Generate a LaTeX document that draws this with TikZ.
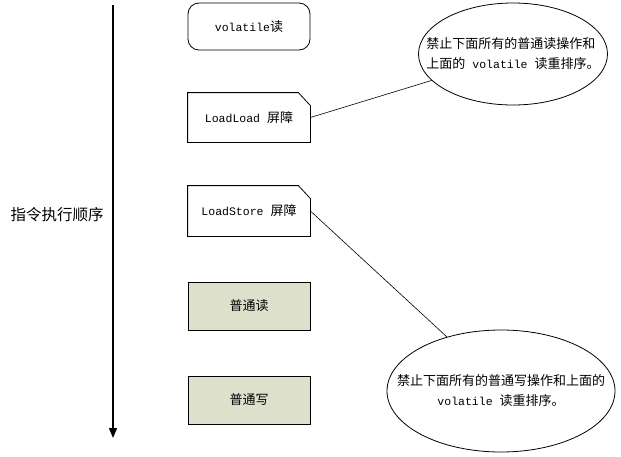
\documentclass[tikz,border=0pt]{standalone}
\usepackage{fontspec}
\setmonofont{Liberation Mono}
\newfontfamily\cjk{Noto Sans CJK SC}
\newcommand\lat[1]{{\fontsize{11.5}{20}\selectfont\ttfamily #1}}
\usetikzlibrary{arrows.meta,shapes.geometric}
\definecolor{plainfill}{RGB}{221,225,204}

\begin{document}
\begin{tikzpicture}[x=1pt,y=-1pt,
  font=\fontsize{13}{20}\selectfont\cjk,
  instr/.style={rectangle, minimum width=122pt, minimum height=48pt, inner sep=0pt, line width=0.8pt},
  note/.style={ellipse, draw, line width=0.8pt, inner sep=0pt}]
\useasboundingbox (0,0) rectangle (621,456);

% order arrow
\coordinate (first) at (113,5);
\coordinate (last) at (113,438);
\draw[line width=1.4pt, -{Triangle[length=10pt,width=8pt]}] (first) -- (last);
\node[font=\fontsize{15.5}{20}\selectfont\cjk] (order) at (57,215) {指令执行顺序};

\node[instr, draw, rounded corners=11pt, minimum height=47pt] (vread)
     at (249,26.5) {\lat{volatile}读};

\node[instr, minimum height=49pt] (ll)
     at (249,117.5) {\lat{LoadLoad\ }屏障};

\node[instr, minimum height=50pt] (ls)
     at (249,211) {\lat{LoadStore\ }屏障};

\node[instr, draw, fill=plainfill] (nread)
     at (249,306) {普通读};

\node[instr, draw, fill=plainfill] (nwrite)
     at (249,400) {普通写};

% barrier boxes with folded corner
\foreach \b in {ll,ls}
  \draw[line width=0.8pt] (\b.north west) -- ([xshift=-12pt]\b.north east)
        -- ([yshift=-13pt]\b.north east) -- (\b.south east)
        -- (\b.south west) -- cycle;

\node[note, minimum width=189pt, minimum height=102pt,
      label={[align=left]center:禁止下面所有的普通读操作和\\上面的\lat{\ volatile\ }读重排序。}]
     (n1) at (513,54) {};

\node[note, minimum width=228pt, minimum height=122pt,
      label={[align=center]center:禁止下面所有的普通写操作和上面的\\\lat{volatile\ }读重排序。}]
     (n2) at (501,391) {};

\draw[line width=0.6pt] (ll.east) -- (n1.198);
\draw[line width=0.6pt] (ls.east) -- (n2.135);
\end{tikzpicture}
\end{document}
